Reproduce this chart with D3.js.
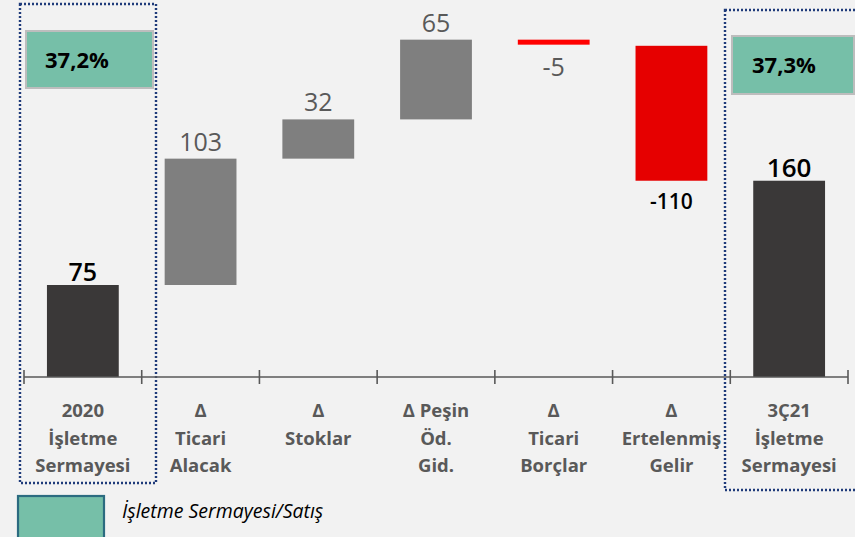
<!DOCTYPE html>
<html>
<head>
<meta charset="utf-8">
<script src="https://cdn.jsdelivr.net/npm/d3@7"></script>
<style>
  body { margin: 0; background: #f2f2f2; }
  svg { display: block; font-family: "Open Sans", "Noto Sans", sans-serif; }
</style>
</head>
<body>
<svg id="chart" width="855" height="537"></svg>
<script>
// categories (axis labels split on lines)
const categories = [
  ["2020", "İşletme", "Sermayesi"],
  ["Δ", "Ticari", "Alacak"],
  ["Δ", "Stoklar"],
  ["Δ Peşin", "Öd.", "Gid."],
  ["Δ", "Ticari", "Borçlar"],
  ["Δ", "Ertelenmiş", "Gelir"],
  ["3Ç21", "İşletme", "Sermayesi"]
];
// values: totals for first/last, changes in between
const values = [75, 103, 32, 65, -5, -110, 160];
const kinds = ["total", "delta", "delta", "delta", "delta", "delta", "total"];
const valueLabels = ["75", "103", "32", "65", "-5", "-110", "160"];
// working capital / sales ratio
const ratios = ["37,2%", "37,3%"];
const legendLabel = "İşletme Sermayesi/Satış";

const svg = d3.select("#chart");
const axisY = 377;

const keys = categories.map((c, i) => i);
const x = d3.scaleBand().domain(keys).range([24, 848]).paddingInner(0.39).paddingOuter(0.195);
const y = d3.scaleLinear().domain([0, 300]).range([axisY, 9]);

// build waterfall segments
let run = 0;
const bars = values.map((v, i) => {
  let start, end;
  if (kinds[i] === "total") { start = 0; end = v; run = v; }
  else { start = run; end = run + v; run = end; }
  return { i, v, start, end, kind: kinds[i], label: valueLabels[i] };
});

function barColor(d) {
  if (d.kind === "total") return "#3a3838";
  if (d.v < 0) return d.v > -10 ? "#ff0000" : "#e60000";
  return "#7f7f7f";
}
const small = d => d.v < 0 && d.v > -10;
const dark = d => d.kind === "total" || d.v === -110;

// dotted highlight boxes around the totals
const boxes = [
  { x0: 20, x1: 156, y0: 4, y1: 483 },
  { x0: 725, x1: 858, y0: 10, y1: 490 }
];
svg.selectAll(".hl").data(boxes).enter().append("rect")
  .attr("x", d => d.x0).attr("y", d => d.y0)
  .attr("width", d => d.x1 - d.x0).attr("height", d => d.y1 - d.y0)
  .attr("fill", "none").attr("stroke", "#1f3b7a")
  .attr("stroke-width", 2.4).attr("stroke-dasharray", "2 2");

// bars
svg.selectAll(".bar").data(bars).enter().append("rect")
  .attr("x", d => x(d.i))
  .attr("width", x.bandwidth())
  .attr("y", d => small(d) ? y(d.start) : y(Math.max(d.start, d.end)))
  .attr("height", d => small(d) ? 5 : Math.abs(y(d.start) - y(d.end)))
  .attr("fill", d => barColor(d));

// value labels
svg.selectAll(".val").data(bars).enter().append("text")
  .attr("x", d => x(d.i) + x.bandwidth() / 2)
  .attr("y", d => {
    if (d.kind === "total") return y(d.end) - 4;
    if (d.v < 0) return y(Math.min(d.start, d.end)) + (small(d) ? 30 : 28);
    return y(d.end) - 8;
  })
  .attr("text-anchor", "middle")
  .style("font-size", d => d.v === -110 ? "21px" : (d.label === "160" ? "26px" : "25px"))
  .style("font-weight", d => dark(d) ? 600 : 400)
  .attr("fill", d => dark(d) ? "#000" : "#595959")
  .text(d => d.label);

// axis line and ticks at band boundaries
svg.append("line").attr("x1", 24).attr("x2", 848)
  .attr("y1", axisY).attr("y2", axisY)
  .attr("stroke", "#595959").attr("stroke-width", 1.6);
const bounds = d3.range(categories.length + 1).map(i => 24 + i * x.step());
svg.selectAll(".tick").data(bounds).enter().append("line")
  .attr("x1", d => d).attr("x2", d => d)
  .attr("y1", axisY - 7).attr("y2", axisY + 7)
  .attr("stroke", "#595959").attr("stroke-width", 1.6);

// category labels
const cat = svg.selectAll(".cat").data(categories).enter().append("text")
  .attr("text-anchor", "middle")
  .style("font-size", "18.5px").style("font-weight", 700)
  .attr("fill", "#595959");
cat.each(function (lines, i) {
  const t = d3.select(this);
  lines.forEach((ln, j) => {
    t.append("tspan")
      .attr("x", x(i) + x.bandwidth() / 2)
      .attr("y", 417 + j * 27.5)
      .text(ln);
  });
});

// ratio boxes
const ratioBoxes = [
  { x0: 26, x1: 153, y0: 31, y1: 88, tx: 45, label: ratios[0] },
  { x0: 732, x1: 854, y0: 36, y1: 94, tx: 752, label: ratios[1] }
];
svg.selectAll(".rb").data(ratioBoxes).enter().append("rect")
  .attr("x", d => d.x0).attr("y", d => d.y0)
  .attr("width", d => d.x1 - d.x0).attr("height", d => d.y1 - d.y0)
  .attr("fill", "#76bfa8").attr("stroke", "#bdbdbd").attr("stroke-width", 2);
svg.selectAll(".rt").data(ratioBoxes).enter().append("text")
  .attr("x", d => d.tx).attr("y", d => (d.y0 + d.y1) / 2 + 8)
  .style("font-size", "22px").style("font-weight", 700)
  .attr("fill", "#000")
  .text(d => d.label);

// legend
svg.append("rect").attr("x", 18).attr("y", 496).attr("width", 86).attr("height", 46)
  .attr("fill", "#76bfa8").attr("stroke", "#2b6b80").attr("stroke-width", 2.2);
svg.append("text").attr("x", 122).attr("y", 518)
  .style("font-size", "19.5px").style("font-style", "italic")
  .attr("fill", "#000")
  .text(legendLabel);
</script>
</body>
</html>
